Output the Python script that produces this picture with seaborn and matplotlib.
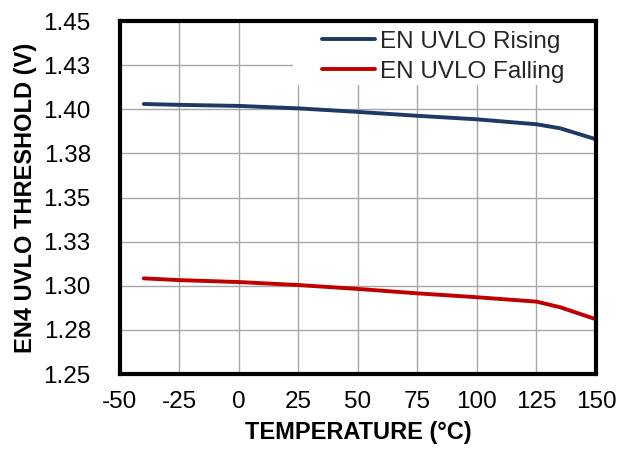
import matplotlib
matplotlib.use("Agg")
import matplotlib.pyplot as plt
from matplotlib.patches import Rectangle
import seaborn as sns
import pandas as pd

# Temperature sweep points (°C)
temperature = [-40, -25, 0, 25, 50, 75, 100, 125, 135, 150]
# EN4 UVLO thresholds (V)
rising = [1.4030, 1.4025, 1.4019, 1.4005, 1.3985, 1.3963, 1.3943, 1.3915, 1.3892, 1.3830]
falling = [1.3042, 1.3032, 1.3021, 1.3004, 1.2982, 1.2957, 1.2935, 1.2910, 1.2878, 1.2810]

series_names = ["EN UVLO Rising", "EN UVLO Falling"]
series_colors = ["#1F3864", "#C00000"]

x_ticks = [-50, -25, 0, 25, 50, 75, 100, 125, 150]
y_ticks = [1.25, 1.275, 1.30, 1.325, 1.35, 1.375, 1.40, 1.425, 1.45]
y_tick_labels = ["1.25", "1.28", "1.30", "1.33", "1.35", "1.38", "1.40", "1.43", "1.45"]

df = pd.DataFrame({
    "Temperature": temperature * 2,
    "Threshold": rising + falling,
    "Series": [series_names[0]] * len(temperature) + [series_names[1]] * len(temperature),
})

sns.set_theme(style="white")
plt.rcParams["font.family"] = ["Liberation Sans", "DejaVu Sans"]
plt.rcParams["axes.unicode_minus"] = False

fig = plt.figure(figsize=(6.24, 4.51), dpi=100)
ax = fig.add_axes([0.1923, 0.1707, 0.7628, 0.7827])

sns.lineplot(data=df, x="Temperature", y="Threshold", hue="Series",
             hue_order=series_names, palette=series_colors,
             linewidth=2.8, ax=ax, legend=False, zorder=3)

ax.set_xlim(-50, 150)
ax.set_ylim(1.25, 1.45)
ax.set_xticks(x_ticks)
ax.set_yticks(y_ticks)
ax.set_yticklabels(y_tick_labels)
ax.grid(True, color="#A6A6A6", linewidth=1.0)
ax.set_axisbelow(True)
ax.tick_params(axis="both", length=0, labelsize=17.5, colors="black")
ax.tick_params(axis="y", pad=21)
ax.tick_params(axis="x", pad=12)

for spine in ax.spines.values():
    spine.set_visible(True)
    spine.set_color("black")
    spine.set_linewidth(3.0)
    spine.set_zorder(5)

ax.set_xlabel("TEMPERATURE (°C)", fontsize=17, fontweight="bold", color="black", labelpad=6)
ax.set_ylabel("EN4 UVLO THRESHOLD (V)", fontsize=17, fontweight="bold", color="black", labelpad=5)

# White backdrop behind the legend entries
ax.add_patch(Rectangle((0.363, 0.819), 0.637, 0.181, transform=ax.transAxes,
                       facecolor="white", edgecolor="none", zorder=1))

handles = [plt.Line2D([], [], color=c, linewidth=2.8) for c in series_colors]
ax.legend(handles, series_names, loc="upper left", bbox_to_anchor=(0.424, 0.972),
          frameon=False, fontsize=17.5, borderpad=0, borderaxespad=0,
          handlelength=2.2, handletextpad=0.2, labelspacing=0.32)

fig.savefig("out.png", dpi=100)
